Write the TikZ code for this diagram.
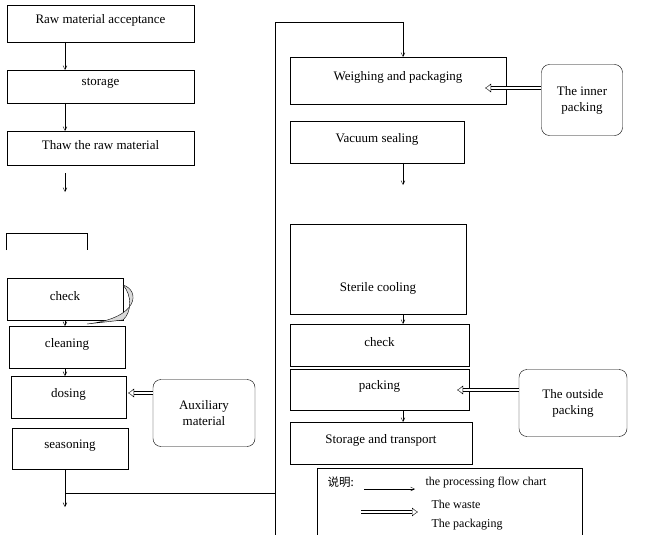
\documentclass[tikz,border=0pt]{standalone}
\usepackage{fontspec}
\setmainfont{Liberation Serif}
\newfontfamily\cjk{Noto Sans CJK SC}
\usetikzlibrary{arrows.meta}
\begin{document}
\begin{tikzpicture}[x=1pt,y=-1pt,
  rbox/.style={draw,rounded corners=8pt,font=\fontsize{13}{16}\selectfont,align=center},
  flow/.style={-{Straight Barb[length=4pt,width=4pt]}},
  hollow/.style={draw,double,double distance=2.5pt,-{Latex[open,length=6pt,width=9pt]},shorten >=2pt}]
\useasboundingbox (0,0) rectangle (657,535);
\def\bx#1#2#3#4#5#6{\draw (#2,#3) rectangle (#4,#5); \node[font=\fontsize{13}{15}\selectfont] (#1) at ({(#2+#4)/2},{(#3+#5)/2-3}) {#6};}
\bx{raw}{7}{5}{194}{42}{Raw material acceptance}
\bx{sto}{7}{70}{194}{103}{storage}
\bx{thaw}{7}{131}{194}{165}{Thaw the raw material}
\bx{chk}{7}{278}{123}{320}{check}
\bx{cln}{9}{326}{125}{368}{cleaning}
\bx{dos}{11}{376}{126}{418}{dosing}
\bx{sea}{12}{428}{128}{469}{seasoning}
\bx{wei}{290}{57}{506}{104}{Weighing and packaging}
\bx{vac}{290}{121}{464}{163}{Vacuum sealing}
\draw (290,224) rectangle (466,314); \node[font=\fontsize{13}{15}\selectfont] (ste) at (378,288) {Sterile cooling};
\bx{chk2}{290}{324}{469}{366}{check}
\bx{pak}{290}{369}{469}{410}{packing}
\bx{st}{290}{422}{472}{464}{Storage and transport}
\draw (6,250) -- (6,233) -- (87,233) -- (87,250);
\draw[fill=gray!30] (123,285) .. controls (140,290) and (140,318) .. (87,324) -- (123,320) .. controls (132,312) and (132,295) .. (123,285);
\draw (11,405) -- (11,418);
\node[rbox,minimum width=102pt,minimum height=67pt] (aux) at (204,413) {Auxiliary\\material};
\node[rbox,minimum width=81pt,minimum height=71pt] (inn) at (582,100) {The inner\\packing};
\node[rbox,minimum width=108pt,minimum height=67pt] (out) at (573,403) {The outside\\packing};
\coordinate (a1) at (65,42); \coordinate (a2) at (65,70);
\draw[flow] (a1) -- (a2);
\coordinate (a3) at (65,103); \coordinate (a4) at (65,131);
\draw[flow] (a3) -- (a4);
\coordinate (a5) at (65,173); \coordinate (a6) at (65,192);
\draw[flow] (a5) -- (a6);
\coordinate (b1) at (65,320); \coordinate (b2) at (65,326);
\draw[flow] (b1) -- (b2);
\coordinate (b3) at (65,368); \coordinate (b4) at (65,376);
\draw[flow] (b3) -- (b4);
\coordinate (s1) at (65,469); \coordinate (s2) at (65,507); \coordinate (s3) at (65,493);
\coordinate (v0) at (275,493); \coordinate (v1) at (275,535); \coordinate (v2) at (275,22);
\coordinate (t1) at (403,22); \coordinate (t2) at (403,57);
\draw[flow] (s1) -- (s2);
\draw (s3) -- (v0);
\draw (v1) -- (v2) -- (t1);
\draw[flow] (t1) -- (t2);
\coordinate (c1) at (403,163); \coordinate (c2) at (403,185);
\draw[flow] (c1) -- (c2);
\coordinate (c3) at (403,314); \coordinate (c4) at (403,324);
\draw[flow] (c3) -- (c4);
\coordinate (c5) at (403,410); \coordinate (c6) at (403,422);
\draw[flow] (c5) -- (c6);
\coordinate (h1) at (126,393); \coordinate (h2) at (483,88); \coordinate (h3) at (455,390);
\draw[hollow] (aux.west|-h1) -- (h1);
\draw[hollow] (inn.west|-h2) -- (h2);
\draw[hollow] (out.west|-h3) -- (h3);
\draw (317,537) -- (317,468) -- (582,468) -- (582,537);
\node[font=\cjk\fontsize{11.5}{13}\selectfont,anchor=west] (lg) at (324,482) {说明:};
\coordinate (l1) at (364,489); \coordinate (l2) at (415,489);
\draw[flow] (l1) -- (l2);
\node[font=\fontsize{12}{14}\selectfont,anchor=west] (lt1) at (422,483) {the processing flow chart};
\node[font=\fontsize{12}{14}\selectfont,anchor=west] (lt2) at (428,504) {The waste};
\node[font=\fontsize{12}{14}\selectfont,anchor=west] (lt3) at (428,525) {The packaging};
\coordinate (l3) at (361,512); \coordinate (l4) at (420,512);
\draw[hollow] (l3) -- (l4);
\end{tikzpicture}
\end{document}
